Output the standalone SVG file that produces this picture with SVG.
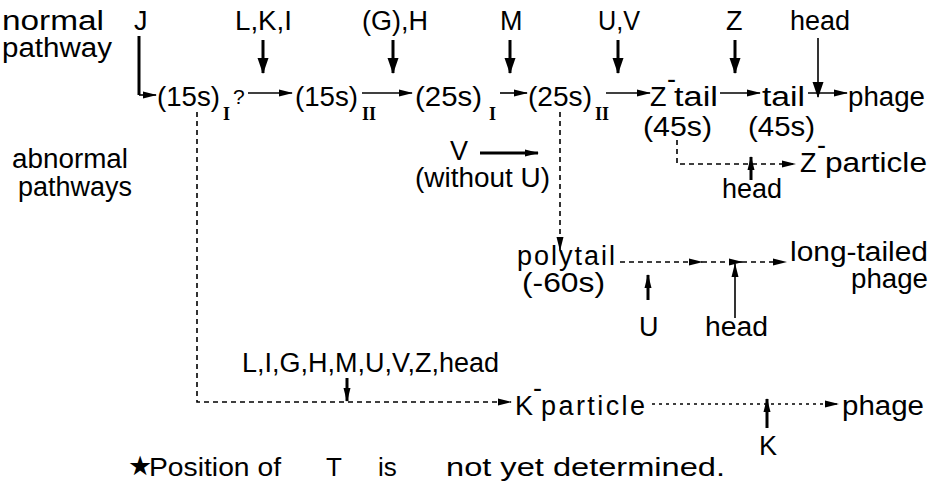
<svg xmlns="http://www.w3.org/2000/svg" width="935" height="493" viewBox="0 0 935 493">
<style>
text{font-family:"Liberation Sans",Arial,"DejaVu Sans",sans-serif;font-size:27px;fill:#000}
.r{font-family:"Liberation Serif",serif;font-weight:bold;font-size:18px}
.q{font-size:21px}
.n{font-size:26px}
.thin{stroke:#000;stroke-width:1.6;fill:none}
.thick{stroke:#000;stroke-width:3;fill:none}
.dash{stroke:#000;stroke-width:1.6;fill:none;stroke-dasharray:5 4}
.dot{stroke:#000;stroke-width:1.6;fill:none;stroke-dasharray:3 4}
</style>
<defs>
<marker id="a" markerWidth="14" markerHeight="10" refX="13" refY="5" orient="auto" markerUnits="userSpaceOnUse"><path d="M0,1.5 L14,5 L0,8.5 z" fill="#000"/></marker>
<marker id="b" markerWidth="16" markerHeight="12" refX="15" refY="6" orient="auto" markerUnits="userSpaceOnUse"><path d="M0,0.5 L16,6 L0,11.5 z" fill="#000"/></marker>
</defs>

<g id="labels">
<text x="2" y="30" textLength="102" lengthAdjust="spacingAndGlyphs">normal</text>
<text x="2" y="57" textLength="110" lengthAdjust="spacingAndGlyphs">pathway</text>
<text x="12" y="168" textLength="116" lengthAdjust="spacingAndGlyphs">abnormal</text>
<text x="18" y="196" textLength="114" lengthAdjust="spacingAndGlyphs">pathways</text>
</g>

<g id="inputs">
<text x="134" y="30">J</text>
<text x="235" y="30" textLength="57" lengthAdjust="spacingAndGlyphs">L,K,I</text>
<text x="362" y="30" textLength="66" lengthAdjust="spacingAndGlyphs">(G),H</text>
<text x="500" y="30">M</text>
<text x="598" y="30" textLength="42" lengthAdjust="spacingAndGlyphs">U,V</text>
<text x="726" y="30">Z</text>
<text x="790" y="30" textLength="60" lengthAdjust="spacingAndGlyphs">head</text>
</g>

<g id="n15sI"><text x="157" y="106" textLength="63" lengthAdjust="spacingAndGlyphs">(15s)</text><text class="r" x="223" y="120">I</text><text class="q" x="233" y="104">?</text></g>
<g id="n15sII"><text x="295" y="106" textLength="63" lengthAdjust="spacingAndGlyphs">(15s)</text><text class="r" x="362" y="120">II</text></g>
<g id="n25sI"><text x="415" y="106" textLength="67" lengthAdjust="spacingAndGlyphs">(25s)</text><text class="r" x="489" y="120">I</text></g>
<g id="n25sII"><text x="528" y="106" textLength="64" lengthAdjust="spacingAndGlyphs">(25s)</text><text class="r" x="595" y="120">II</text></g>
<g id="nZtail"><text x="650" y="106">Z</text><text x="667" y="88" font-size="16">-</text><text x="674" y="106" textLength="44" lengthAdjust="spacingAndGlyphs">tail</text><text x="643" y="136" textLength="69" lengthAdjust="spacingAndGlyphs">(45s)</text></g>
<g id="ntail"><text x="762" y="106" textLength="43" lengthAdjust="spacingAndGlyphs">tail</text><text x="748" y="136" textLength="67" lengthAdjust="spacingAndGlyphs">(45s)</text></g>
<g id="nphage1"><text x="848" y="106" textLength="77" lengthAdjust="spacingAndGlyphs">phage</text></g>

<g id="nV"><text x="450" y="160">V</text><text x="415" y="187" textLength="135" lengthAdjust="spacingAndGlyphs">(without U)</text></g>
<g id="nZparticle"><text x="800" y="172">Z</text><text x="817" y="154" font-size="16">-</text><text x="825" y="172" textLength="102" lengthAdjust="spacingAndGlyphs">particle</text></g>
<g id="nhead2"><text x="722" y="198">head</text></g>

<g id="npolytail"><text x="517" y="265" textLength="98" lengthAdjust="spacing">polytail</text><text x="522" y="292" textLength="83" lengthAdjust="spacingAndGlyphs">(-60s)</text></g>
<g id="nlong"><text x="790" y="261" textLength="138" lengthAdjust="spacingAndGlyphs">long-tailed</text><text x="851" y="288" textLength="77" lengthAdjust="spacingAndGlyphs">phage</text></g>
<g id="nU"><text x="639" y="336">U</text></g>
<g id="nhead3"><text x="705" y="336" textLength="63" lengthAdjust="spacingAndGlyphs">head</text></g>

<g id="nlist"><text x="242" y="372">L,I,G,H,M,U,V,Z,head</text></g>
<g id="nKparticle"><text x="515" y="415">K</text><text x="533" y="397" font-size="16">-</text><text x="541" y="415" textLength="104" lengthAdjust="spacing">particle</text></g>
<g id="nphage3"><text x="842" y="415" textLength="82" lengthAdjust="spacingAndGlyphs">phage</text></g>
<g id="nK"><text x="759" y="455">K</text></g>

<g id="note">
<text x="128" y="475" font-size="18">★</text>
<text class="n" x="149" y="476" textLength="132" lengthAdjust="spacingAndGlyphs">Position of</text>
<text class="n" x="326" y="476">T</text>
<text class="n" x="378" y="476">is</text>
<text class="n" x="446" y="476" textLength="279" lengthAdjust="spacingAndGlyphs">not yet determined.</text>
</g>

<g id="connectors">
<path class="thick" d="M139,36 V95"/>
<path class="thin" d="M139,95 H156" marker-end="url(#a)"/>
<path class="thick" d="M263,40 V73" marker-end="url(#b)"/>
<path class="thick" d="M393,40 V73" marker-end="url(#b)"/>
<path class="thick" d="M510,40 V73" marker-end="url(#b)"/>
<path class="thick" d="M618,40 V73" marker-end="url(#b)"/>
<path class="thick" d="M735,40 V73" marker-end="url(#b)"/>
<path class="thin" d="M818,38 V97" marker-end="url(#b)"/>
<path class="thin" d="M248,93 H292" marker-end="url(#a)"/>
<path class="thin" d="M362,93 H412" marker-end="url(#a)"/>
<path class="thin" d="M500,93 H527" marker-end="url(#a)"/>
<path class="thin" d="M606,93 H650" marker-end="url(#a)"/>
<path class="thin" d="M720,93 H760" marker-end="url(#a)"/>
<path class="thin" d="M808,93 H847" marker-end="url(#a)"/>
<path class="dash" d="M197,112 V402 H511" marker-end="url(#a)"/>
<path class="thick" d="M347,378 V401" marker-end="url(#a)"/>
<path class="dot" d="M652,404 H838" marker-end="url(#a)"/>
<path class="thick" d="M767,428 V399" marker-end="url(#a)"/>
<path class="dash" d="M560,112 V250" marker-end="url(#a)"/>
<path class="thick" d="M480,153 H538" marker-end="url(#a)"/>
<path class="dash" d="M677,140 V164 H795" marker-end="url(#a)"/>
<path class="thick" d="M751,180 V157" marker-end="url(#a)"/>
<path class="dash" d="M620,262 H702" marker-end="url(#a)"/>
<path class="dash" d="M702,262 H742" marker-end="url(#a)"/>
<path class="dash" d="M742,262 H786" marker-end="url(#a)"/>
<path class="thick" d="M648,300 V275" marker-end="url(#a)"/>
<path class="thin" d="M735,318 V264" marker-end="url(#a)"/>
</g>
</svg>
